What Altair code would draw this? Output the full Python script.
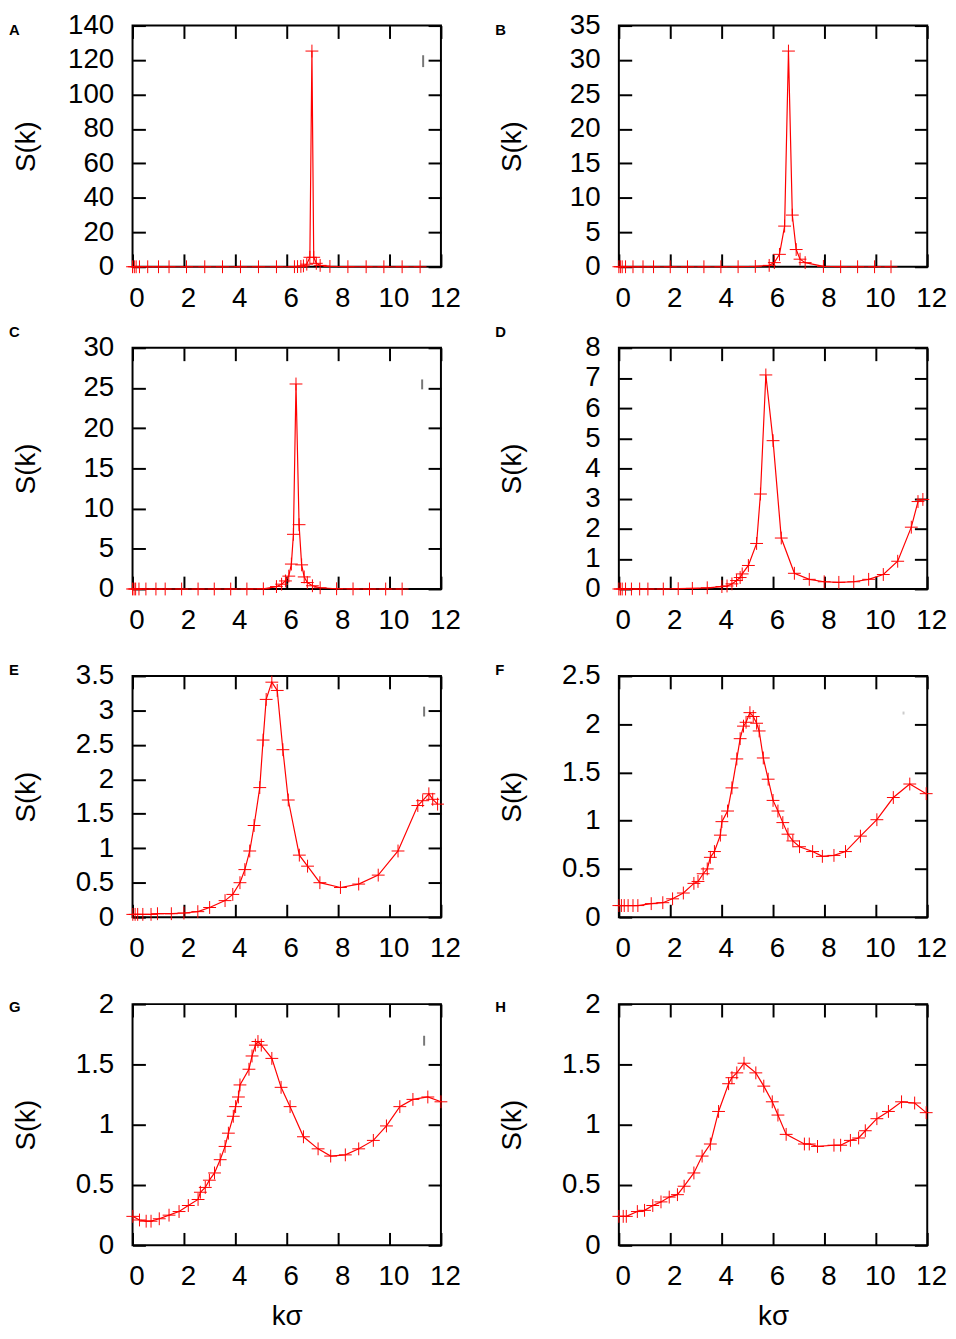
import altair as alt
import pandas as pd

# ---------------- data ----------------
x_ticks = [0, 2, 4, 6, 8, 10, 12]

kA = [0.0, 0.07, 0.14, 0.27, 0.59, 1.01, 1.42, 2.10, 2.81, 3.50, 4.20, 4.90, 5.60, 6.30,
      6.42, 6.55, 6.65, 6.78, 6.90, 6.98, 7.05, 7.15, 7.30, 7.68, 8.38, 9.09, 9.78, 10.49, 11.19]
sA = [0, 0, 0, 0, 0, 0, 0, 0, 0, 0, 0, 0, 0.01, 0.05,
      0.1, 0.2, 0.5, 1.5, 5.5, 125.2, 5.5, 2.0, 0.8, 0.2, 0.05, 0.01, 0, 0, 0]

kB = [0.0, 0.06, 0.13, 0.26, 0.55, 0.94, 1.35, 2.00, 2.67, 3.31, 3.97, 4.64, 5.31, 5.85,
      6.05, 6.25, 6.45, 6.60, 6.75, 6.90, 7.05, 7.25, 7.96, 8.63, 9.29, 9.95, 10.59]
sB = [0, 0, 0, 0, 0, 0, 0, 0, 0, 0, 0, 0.01, 0.05, 0.2,
      0.6, 1.8, 5.9, 31.3, 7.5, 2.5, 1.1, 0.6, 0.05, 0.01, 0, 0, 0]

kC = [0.0, 0.06, 0.12, 0.25, 0.52, 0.91, 1.27, 1.91, 2.55, 3.18, 3.82, 4.45, 5.09, 5.60,
      5.80, 5.95, 6.08, 6.18, 6.26, 6.36, 6.48, 6.58, 6.68, 6.80, 7.00, 7.30, 7.94, 8.58,
      9.22, 9.85, 10.49]
sC = [0, 0, 0, 0, 0, 0, 0, 0, 0, 0, 0, 0, 0.02, 0.3,
      0.6, 1.0, 1.6, 3.1, 6.8, 25.5, 8.0, 3.0, 1.5, 0.8, 0.4, 0.15, 0.03, 0.01,
      0, 0, 0]

kD = [0.0, 0.06, 0.13, 0.26, 0.49, 0.81, 1.13, 1.73, 2.31, 2.86, 3.44, 4.01, 4.21, 4.40,
      4.58, 4.72, 4.80, 5.04, 5.36, 5.51, 5.72, 6.00, 6.32, 6.83, 7.41, 7.99, 8.56, 9.14,
      9.72, 10.29, 10.85, 11.38, 11.64, 11.83]
sD = [0, 0, 0, 0, 0, 0, 0, 0, 0.01, 0.02, 0.04, 0.08, 0.1, 0.17,
      0.28, 0.38, 0.5, 0.78, 1.51, 3.15, 7.1, 4.92, 1.69, 0.52, 0.32, 0.24, 0.22, 0.24,
      0.32, 0.48, 0.92, 2.05, 2.9, 2.97]

kE = [0.01, 0.10, 0.20, 0.40, 0.72, 0.97, 1.51, 2.00, 2.54, 3.00, 3.60, 3.90, 4.18, 4.37,
      4.56, 4.73, 4.95, 5.08, 5.20, 5.42, 5.63, 5.85, 6.06, 6.49, 6.81, 7.29, 8.09, 8.80,
      9.56, 10.33, 11.10, 11.29, 11.53, 11.68, 11.87]
sE = [0.04, 0.04, 0.04, 0.04, 0.04, 0.05, 0.05, 0.06, 0.08, 0.14, 0.24, 0.33, 0.5, 0.69,
      0.96, 1.33, 1.88, 2.57, 3.16, 3.41, 3.29, 2.43, 1.7, 0.9, 0.74, 0.5, 0.43, 0.48,
      0.61, 0.96, 1.62, 1.69, 1.79, 1.71, 1.64]

kF = [0.0, 0.10, 0.21, 0.36, 0.55, 0.74, 1.26, 1.71, 2.09, 2.51, 2.92, 3.08, 3.28, 3.44,
      3.56, 3.72, 3.95, 4.01, 4.23, 4.40, 4.59, 4.72, 4.85, 4.95, 5.10, 5.23, 5.36, 5.46,
      5.62, 5.81, 6.00, 6.19, 6.38, 6.58, 6.77, 7.03, 7.54, 7.92, 8.37, 8.82, 9.40, 10.04,
      10.68, 11.32, 11.96]
sF = [0.12, 0.12, 0.12, 0.12, 0.12, 0.12, 0.14, 0.15, 0.19, 0.25, 0.35, 0.37, 0.45, 0.5,
      0.62, 0.68, 0.85, 0.99, 1.1, 1.34, 1.64, 1.85, 1.98, 2.02, 2.12, 2.08, 2.01, 1.93,
      1.65, 1.43, 1.21, 1.1, 0.98, 0.86, 0.79, 0.73, 0.68, 0.63, 0.64, 0.68, 0.84, 1.01,
      1.24, 1.38, 1.28]

kG = [0.01, 0.27, 0.53, 0.72, 1.04, 1.42, 1.81, 2.17, 2.55, 2.64, 2.83, 2.99, 3.19, 3.41,
      3.60, 3.73, 3.92, 4.01, 4.12, 4.18, 4.53, 4.65, 4.78, 4.88, 5.01, 5.42, 5.78, 6.13,
      6.65, 7.22, 7.71, 8.28, 8.80, 9.37, 9.88, 10.40, 10.91, 11.49, 12.00]
sG = [0.24, 0.21, 0.2, 0.2, 0.22, 0.25, 0.28, 0.33, 0.38, 0.44, 0.48, 0.54, 0.6, 0.71,
      0.82, 0.93, 1.07, 1.15, 1.23, 1.33, 1.46, 1.57, 1.66, 1.69, 1.66, 1.55, 1.31, 1.15,
      0.9, 0.8, 0.74, 0.75, 0.8, 0.87, 0.99, 1.15, 1.21, 1.23, 1.19]

kH = [0.0, 0.17, 0.29, 0.72, 1.00, 1.32, 1.64, 1.96, 2.28, 2.54, 2.92, 3.24, 3.56, 3.88,
      4.27, 4.40, 4.59, 4.87, 5.33, 5.64, 5.97, 6.19, 6.51, 7.22, 7.41, 7.73, 8.37, 8.63,
      9.01, 9.33, 9.59, 10.04, 10.49, 11.00, 11.51, 11.96]
sH = [0.24, 0.24, 0.24, 0.28, 0.29, 0.33, 0.36, 0.40, 0.42, 0.49, 0.6, 0.74, 0.84, 1.11,
      1.34, 1.39, 1.43, 1.51, 1.43, 1.32, 1.19, 1.08, 0.92, 0.84, 0.84, 0.82, 0.83, 0.83,
      0.87, 0.89, 0.95, 1.05, 1.11, 1.19, 1.18, 1.1]

y_max = {"A": 140, "B": 35, "C": 30, "D": 8, "E": 3.5, "F": 2.5, "G": 2, "H": 2}
y_step = {"A": 20, "B": 5, "C": 5, "D": 1, "E": 0.5, "F": 0.5, "G": 0.5, "H": 0.5}

# ---------------- styling ----------------
FONT = "Liberation Sans"
RED = "#ff0000"
W, H = 312, 244
TICK = 13
CROSS = "M-1,0H1M0,-1V1"

# letter vertical position relative to plot top, per panel
letter_y = {"A": 4.5, "B": 4.5, "C": -16, "D": -16, "E": -5.5, "F": -6, "G": 3, "H": 3}
# faint legend remnant marks (x, y1, y2, colour)
remnant = {"A": (294, 30, 42, "#777777"), "C": (293, 32, 42, "#777777"),
           "E": (295, 31, 41, "#777777"), "G": (295, 32, 42, "#777777"),
           "F": (288, 36, 39, "#cccccc")}


def panel(letter, k, s, bottom_row):
    df = pd.DataFrame({"k": k, "S": s})
    ymax = y_max[letter]
    step = y_step[letter]
    n = int(round(ymax / step))
    yt = [round(i * step, 3) for i in range(n + 1)]
    xs = alt.Scale(domain=[0, 12], nice=False, zero=False)
    ys = alt.Scale(domain=[0, ymax], nice=False, zero=False)

    xaxis = dict(orient="bottom", values=x_ticks, offset=-TICK, tickSize=TICK,
                 labelPadding=18, labelOffset=4, minExtent=0)
    if bottom_row:
        xaxis["title"] = "kσ"
        xaxis["titlePadding"] = 12
    else:
        xaxis["title"] = None

    line = alt.Chart(df).mark_line(color=RED, strokeWidth=1.2).encode(
        x=alt.X("k:Q", scale=xs, axis=alt.Axis(**xaxis)),
        y=alt.Y("S:Q", scale=ys, axis=alt.Axis(
            orient="left", values=yt, offset=-TICK, tickSize=TICK,
            labelExpr="'' + datum.value",
            labelPadding=19, minExtent=85, maxExtent=85, titlePadding=21,
            title="S(k)")),
    )
    pts = alt.Chart(df).mark_point(
        shape=CROSS, size=169, filled=False, stroke=RED, strokeWidth=1, opacity=1
    ).encode(
        x=alt.X("k:Q", scale=xs, axis=alt.Axis(
            orient="top", values=x_ticks, offset=-TICK, tickSize=TICK,
            labels=False, title=None, minExtent=0)),
        y=alt.Y("S:Q", scale=ys, axis=alt.Axis(
            orient="right", values=yt, offset=-TICK, tickSize=TICK,
            labels=False, title=None, minExtent=0)),
    )
    lab = alt.Chart(pd.DataFrame({"t": [letter]})).mark_text(
        align="left", baseline="middle", font=FONT, fontSize=15,
        fontWeight="bold", color="black"
    ).encode(x=alt.value(-125), y=alt.value(letter_y[letter]), text="t:N")
    layers = [line, pts, lab]
    if letter in remnant:
        rx, ry1, ry2, rc = remnant[letter]
        layers.append(
            alt.Chart(pd.DataFrame({"r": [0]})).mark_rule(color=rc, strokeWidth=2).encode(
                x=alt.value(rx), y=alt.value(ry1), y2=alt.value(ry2)))
    return alt.layer(*layers).properties(width=W, height=H)


pA = panel("A", kA, sA, False)
pB = panel("B", kB, sB, False)
pC = panel("C", kC, sC, False)
pD = panel("D", kD, sD, False)
pE = panel("E", kE, sE, False)
pF = panel("F", kF, sF, False)
pG = panel("G", kG, sG, True)
pH = panel("H", kH, sH, True)

row1 = alt.hconcat(pA, pB, spacing=33)
row2 = alt.hconcat(pC, pD, spacing=33)
row3 = alt.hconcat(pE, pF, spacing=33)
row4 = alt.hconcat(pG, pH, spacing=33)

chart = alt.vconcat(
    row1, alt.vconcat(row2, row3, row4, spacing=26), spacing=11
).properties(
    padding={"top": -5, "left": 0, "right": 0, "bottom": 0},
    background="white",
).configure_view(
    stroke="black", strokeWidth=2
).configure_axis(
    domain=False, grid=False, tickColor="black", tickWidth=2,
    labelFont=FONT, labelFontSize=28, labelColor="black",
    labelFlush=False, labelOverlap=False,
    titleFont=FONT, titleFontSize=28, titleFontWeight="normal", titleColor="black",
)

chart.save("out.html", embed_options={"renderer": "svg", "actions": False})
